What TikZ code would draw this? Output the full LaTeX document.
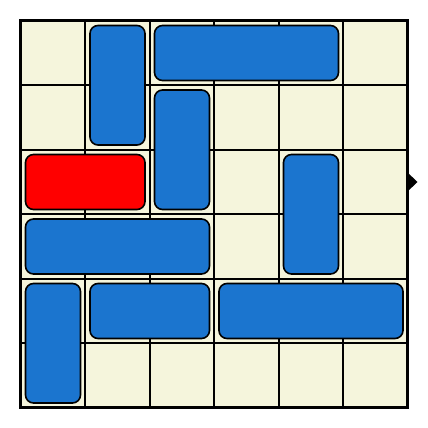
\documentclass[tikz,border=0pt]{standalone}
\definecolor{boardbg}{HTML}{F5F5DC}
\definecolor{carblue}{HTML}{1B75CF}
\definecolor{carred}{HTML}{FF0000}
\tikzset{
  car/.style={draw=black, line width=1.6pt, rounded corners=8pt},
  gridline/.style={draw=black, line width=2pt},
}
\newcommand{\cs}{64.5}
\newcommand{\orig}{20.5}
\newcommand{\carbox}[5]{% col,row,w,h,color
  \pgfmathsetmacro{\xa}{\orig+#1*\cs+5}
  \pgfmathsetmacro{\ya}{\orig+#2*\cs+5}
  \pgfmathsetmacro{\xb}{\orig+(#1+#3)*\cs-4.5}
  \pgfmathsetmacro{\yb}{\orig+(#2+#4)*\cs-4.5}
  \draw[car, fill=#5] (\xa,\ya) rectangle (\xb,\yb);
}
\begin{document}
\begin{tikzpicture}[x=1pt,y=-1pt]
\useasboundingbox (0,0) rectangle (428,428);
\fill[boardbg] (20.5,20.5) rectangle (407.5,407.5);
\foreach \i in {1,...,5}{
  \pgfmathsetmacro{\p}{\orig+\i*\cs}
  \draw[gridline] (\p,20.5) -- (\p,407.5);
  \draw[gridline] (20.5,\p) -- (407.5,\p);
}
\carbox{1}{0}{1}{2}{carblue}
\carbox{2}{0}{3}{1}{carblue}
\carbox{2}{1}{1}{2}{carblue}
\carbox{0}{2}{2}{1}{carred}
\carbox{4}{2}{1}{2}{carblue}
\carbox{0}{3}{3}{1}{carblue}
\carbox{0}{4}{1}{2}{carblue}
\carbox{1}{4}{2}{1}{carblue}
\carbox{3}{4}{3}{1}{carblue}
\draw[black, line width=3pt] (20.5,20.5) rectangle (407.5,407.5);
\fill[black] (407,172) -- (417.5,182) -- (407,192) -- cycle;
\end{tikzpicture}
\end{document}
